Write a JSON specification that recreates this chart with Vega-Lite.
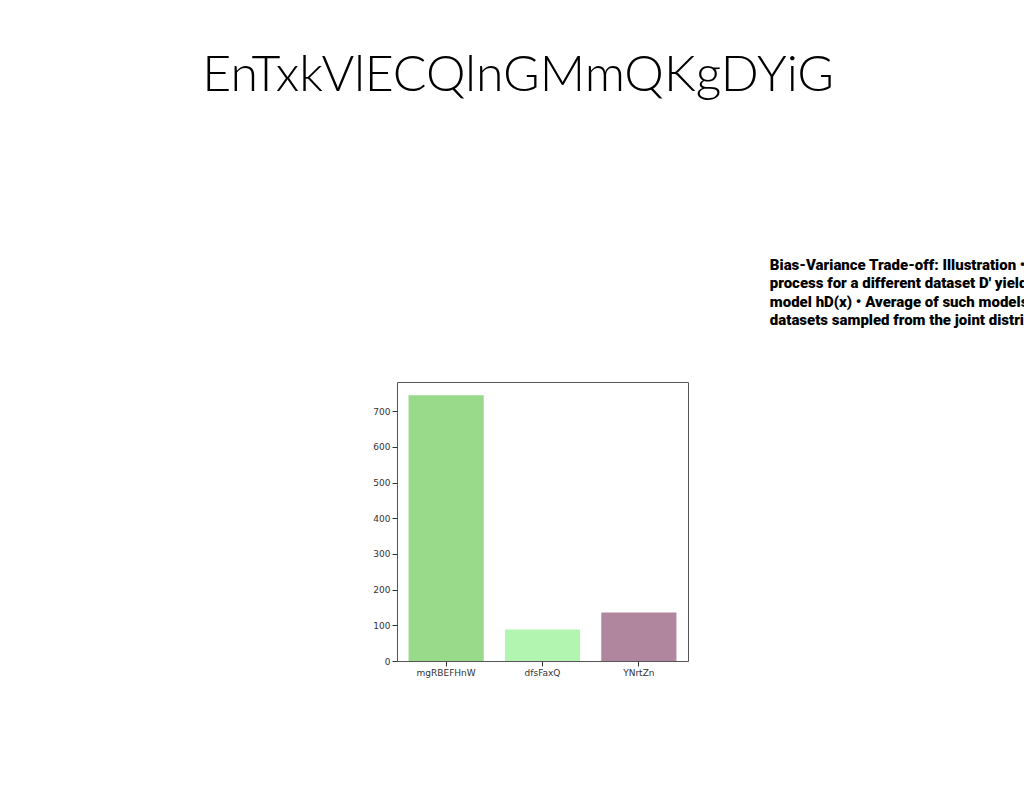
{
  "$schema": "https://vega.github.io/schema/vega-lite/v6.json",
  "background": "white",
  "padding": {"left": 202, "top": 51, "right": 0, "bottom": 0},
  "title": {
    "text": "EnTxkVlECQlnGMmQKgDYiG",
    "anchor": "start",
    "font": "Lato",
    "fontSize": 50,
    "fontWeight": 300,
    "color": "black",
    "dx": -170,
    "offset": 156
  },
  "vconcat": [
    {
      "title": {
        "text": [
          "Bias-Variance Trade-off: Illustration • Repeating",
          "process for a different dataset D' yields a new",
          "model hD(x) • Average of such models over infinitely",
          "datasets sampled from the joint distribution is"
        ],
        "anchor": "start",
        "font": "Roboto",
        "fontSize": 15,
        "fontWeight": 900,
        "letterSpacing": 1.2,
        "lineHeight": 18.5,
        "color": "black",
        "dx": 397,
        "offset": 54
      },
      "width": 291,
      "height": 279,
      "data": {
        "values": [
          {"name": "mgRBEFHnW", "value": 745},
          {"name": "dfsFaxQ", "value": 88},
          {"name": "YNrtZn", "value": 136}
        ]
      },
      "mark": {"type": "bar"},
      "encoding": {
        "x": {
          "field": "name",
          "type": "nominal",
          "sort": null,
          "title": null,
          "scale": {"paddingInner": 0.22, "paddingOuter": 0.12},
          "axis": {"labelAngle": 0, "labelFont": "DejaVu Sans", "labelFontSize": 9, "labelColor": "#333", "tickColor": "#333", "domain": false}
        },
        "y": {
          "field": "value",
          "type": "quantitative",
          "title": null,
          "scale": {"domain": [0, 782], "nice": false},
          "axis": {"values": [0, 100, 200, 300, 400, 500, 600, 700], "grid": false, "labelFont": "DejaVu Sans", "labelFontSize": 9, "labelColor": "#333", "tickColor": "#333", "domain": false}
        },
        "color": {
          "field": "name",
          "type": "nominal",
          "sort": null,
          "legend": null,
          "scale": {"range": ["#98d98a", "#b1f5b0", "#b0869e"]}
        }
      }
    }
  ],
  "config": {
    "view": {"stroke": "#555", "strokeWidth": 1}
  }
}
